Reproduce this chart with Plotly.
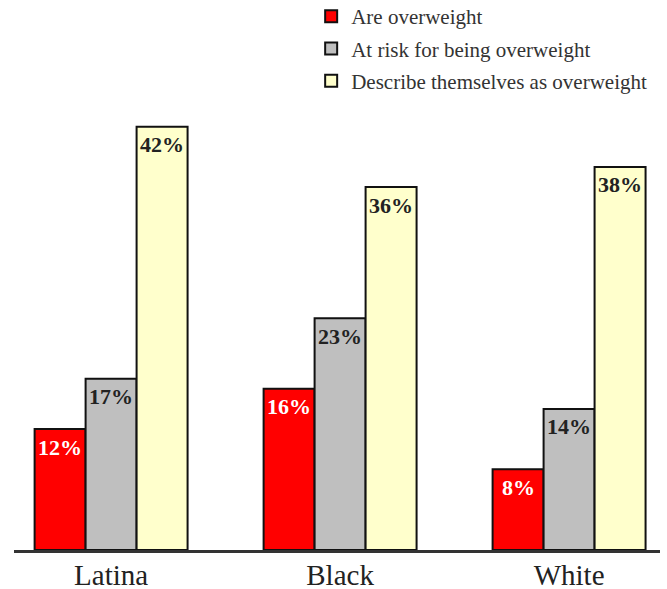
import plotly.graph_objects as go

# Survey categories and percentages
groups = ["Latina", "Black", "White"]
are_overweight = [12, 16, 8]
at_risk = [17, 23, 14]
describe_overweight = [42, 36, 38]

series = [
    ("Are overweight", are_overweight, "#ff0000", "white"),
    ("At risk for being overweight", at_risk, "#bfbfbf", "#222222"),
    ("Describe themselves as overweight", describe_overweight, "#ffffcc", "#222222"),
]

positions = list(range(len(groups)))
bargap = 0.332
bar_w = (1 - bargap) / len(series)

fig = go.Figure()
annotations = []
for i, (name, vals, color, tcolor) in enumerate(series):
    fig.add_trace(go.Bar(
        name=name,
        x=positions,
        y=vals,
        legendgroup=f"g{i}",
        marker=dict(color=color, line=dict(color="#111111", width=2)),
    ))
    offset = (i - (len(series) - 1) / 2) * bar_w
    for p, v in zip(positions, vals):
        annotations.append(dict(
            x=p + offset, y=v, xref="x", yref="y",
            text=f"<b>{v}%</b>", showarrow=False,
            yanchor="middle", xanchor="center", yshift=-18,
            font=dict(family="Liberation Serif", size=22, color=tcolor),
        ))

fig.update_layout(
    width=667,
    height=589,
    margin=dict(l=14, r=7, t=46, b=39, autoexpand=False),
    paper_bgcolor="white",
    plot_bgcolor="white",
    barmode="group",
    bargap=bargap,
    bargroupgap=0,
    showlegend=True,
    annotations=annotations,
    legend=dict(
        x=0.46, y=1.099,
        xanchor="left", yanchor="top",
        font=dict(family="Liberation Serif", size=21, color="#333333"),
        tracegroupgap=2,
        itemwidth=30,
        bgcolor="rgba(0,0,0,0)",
    ),
    xaxis=dict(
        type="linear",
        range=[-0.424, 2.397],
        tickmode="array", tickvals=positions, ticktext=groups,
        showline=True, linecolor="#333333", linewidth=3,
        ticks="", showgrid=False, zeroline=False,
        ticklabelstandoff=-3,
        tickfont=dict(family="Liberation Serif", size=29, color="#222222"),
    ),
    yaxis=dict(
        range=[0, 50],
        visible=False, showgrid=False, zeroline=False,
    ),
)

fig.write_html("out.html")
